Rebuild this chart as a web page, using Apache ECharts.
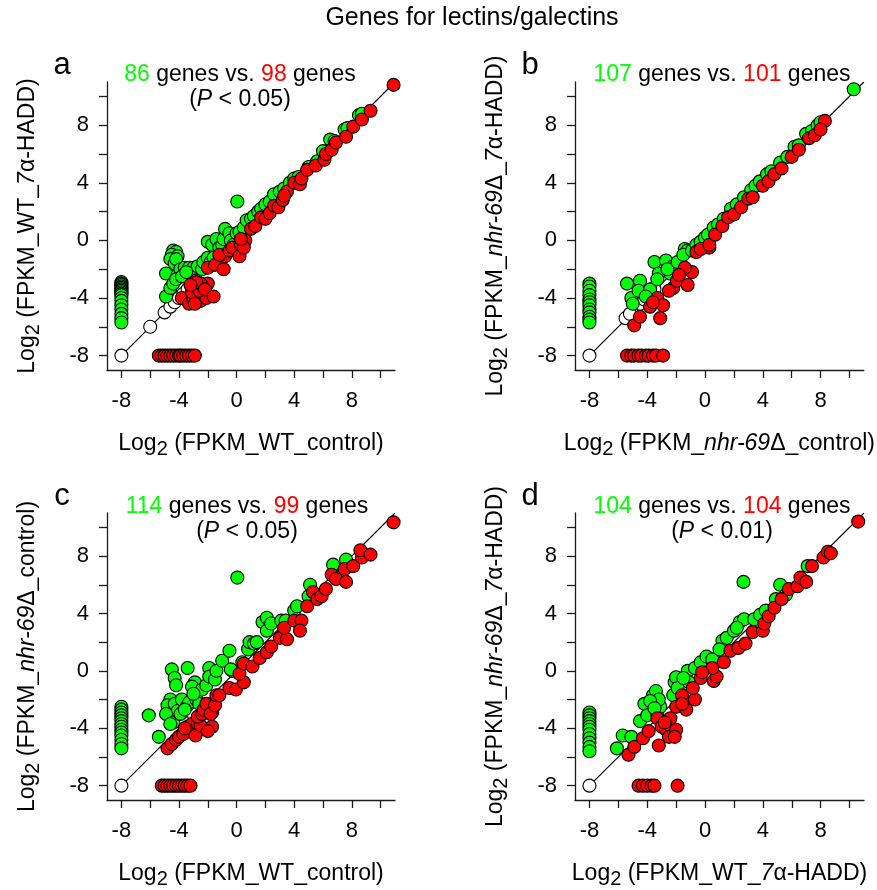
<!DOCTYPE html>
<html>
<head>
<meta charset="utf-8">
<script src="https://cdn.jsdelivr.net/npm/echarts@6/dist/echarts.min.js"></script>
<style>html,body{margin:0;padding:0;background:#fff}#chart{width:877px;height:890px}</style>
</head>
<body>
<div id="chart"></div>
<script>
// ---------- data (log2 FPKM values) ----------
const axisRange = [-9, 11];
const tickValues = [-8, -6, -4, -2, 0, 2, 4, 6, 8, 10];
const labelValues = [-8, -4, 0, 4, 8];
const diagLine = [-8, 11];

const aUp = [[-8,-2.9],[-8,-3.0],[-8,-3.1],[-8,-3.2],[-8,-3.3],[-8,-3.4],[-8,-3.5],[-8,-3.6],[-8,-3.7],[-8,-3.8],[-8,-4.0],[-8,-4.2],[-8,-4.5],[-8,-4.8],[-8,-5.1],[-8,-5.4],[-8,-5.7],
[-4.4,-0.7],[-4.2,-0.8],[-4.5,-1.0],[-4.1,-1.1],[-4.6,-1.3],[-4.3,-1.6],[-4.2,-1.3],[-4.9,-2.3],[-4.1,-2.4],[-3.9,-2.0],[-3.6,-1.9],[-3.3,-1.9],[-3.0,-1.9],[-2.7,-1.8],[-2.4,-2.0],[-4.9,-3.9],[-4.6,-3.3],[-4.4,-3.0],[-4.2,-2.7],[-3.8,-2.5],[-3.5,-2.2],
[-2.3,-1.5],[-2.0,-1.2],[-1.8,-1.5],[-1.6,-1.2],[-2.0,-0.1],[-1.7,-0.3],[-1.4,0.1],[-1.2,-0.5],[-1.0,-0.3],[-0.9,0.1],[-0.8,0.8],[-0.5,0.5],[-0.4,0.0],[-0.2,-0.3],[0.0,0.5],[0.2,0.6],[0.5,0.9],[0.7,1.4],[1.0,1.5],[1.2,1.7],[1.5,2.0],[1.7,2.2],[2.0,2.5],[2.3,2.7],[2.6,3.2],[3.0,3.4],[3.3,3.6],[3.7,4.0],[4.0,4.3],[4.3,4.4],[5.0,5.1],[5.6,5.5],[6.0,6.2],[6.5,7.0],[6.8,6.9],[7.5,7.7],[7.7,7.8],[8.5,8.7],[8.7,8.8],[0.05,2.7]];
const aDown = [[-5.4,-8],[-5.2,-8],[-5.0,-8],[-4.8,-8],[-4.6,-8],[-4.4,-8],[-4.2,-8],[-4.0,-8],[-3.9,-8],[-3.7,-8],[-3.5,-8],[-3.3,-8],[-3.1,-8],[-2.9,-8],
[-3.8,-4.0],[-3.3,-4.4],[-3.0,-4.1],[-2.5,-4.2],[-2.1,-4.0],[-3.1,-3.6],[-2.6,-3.5],[-2.0,-3.0],[-2.5,-3.0],[-2.8,-2.9],[-3.2,-3.1],[-2.2,-3.4],[-1.6,-3.9],[-2.9,-4.4],
[-2.0,-1.9],[-1.5,-1.7],[-0.9,-2.0],[-0.8,-1.1],[-1.2,-1.0],[-0.5,-0.7],[-0.3,-0.5],[0.2,-1.1],[0.3,-0.3],[0.6,0.0],[0.5,-0.5],[0.3,0.1],[1.0,0.8],[1.3,1.0],[1.7,1.6],[2.0,1.5],[2.3,1.9],[2.6,2.4],[2.9,2.3],[3.2,2.8],[3.5,3.4],[3.3,3.1],[4.0,4.0],[4.4,3.9],[4.5,4.3],[4.9,4.9],[5.5,5.2],[6.1,5.6],[6.2,6.0],[6.6,6.3],[6.9,6.8],[7.6,7.2],[8.1,7.9],[8.7,8.4],[9.3,9.0],[10.9,10.8]];
const aSame = [[-8,-8],[-6,-6],[-5,-5],[-4.6,-4.6],[-4.3,-4.3],[-4,-4],[-3.7,-3.7],[-3.4,-3.4],[-3.1,-3.1],[-2.8,-2.8]];

const bUp = [[-8,-3.0],[-8,-3.2],[-8,-3.5],[-8,-3.8],[-8,-4.1],[-8,-4.3],[-8,-4.5],[-8,-4.8],[-8,-5.0],[-8,-5.3],[-8,-5.5],[-8,-5.7],
[-5.4,-3.0],[-5.1,-4.0],[-5.0,-4.4],[-4.5,-2.8],[-4.6,-3.5],[-3.8,-3.4],[-4.1,-3.9],[-3.5,-1.5],[-3.2,-2.3],[-3.3,-2.7],[-2.7,-1.4],[-2.4,-2.3],[-2.2,-1.8],[-2.6,-2.0],[-1.9,-1.5],[-1.4,-0.6],[-1.2,-0.7],[-1.5,-1.0],[-0.9,-0.7],[-0.6,-0.3],[-0.3,-0.1],[0.0,0.2],[0.2,0.4],[0.6,0.9],[0.9,1.1],[1.3,1.5],[1.8,2.2],[2.2,2.5],[2.7,3.0],[3.2,3.5],[3.5,3.8],[3.8,4.1],[4.3,4.6],[4.6,4.8],[5.2,5.4],[5.7,5.8],[6.2,6.5],[6.5,6.6],[7.0,7.4],[7.4,7.6],[7.8,8.0],[8.0,8.2],[10.3,10.5]];
const bDown = [[-5.4,-8],[-5.1,-8],[-4.9,-8],[-4.6,-8],[-4.4,-8],[-4.1,-8],[-3.9,-8],[-3.6,-8],[-3.4,-8],[-2.9,-8],
[-4.9,-5.9],[-4.5,-5.3],[-3.1,-5.4],[-3.8,-4.6],[-3.3,-4.0],[-2.9,-4.5],[-3.6,-4.3],[-2.2,-3.3],[-1.95,-2.8],[-1.2,-3.1],[-0.9,-2.2],[-1.4,-1.9],[-2.5,-3.5],[-1.8,-2.4],[-0.6,-0.8],[0.3,-0.5],[-0.3,-0.6],[0.3,-0.3],[0.7,0.4],[1.2,1.0],[1.6,1.6],[2.0,1.8],[2.5,2.3],[3.0,2.9],[3.3,3.0],[4.0,3.8],[4.4,4.1],[4.8,4.6],[5.3,5.0],[6.0,5.8],[6.5,6.3],[7.2,7.1],[7.6,7.3],[8.3,8.3],[8.0,7.7]];
const bSame = [[-8,-8],[-5.5,-5.4],[-5.2,-5.1],[-4.5,-4.4],[-4.2,-4.1],[-3.8,-3.8],[-3.5,-3.4]];

const cUp = [[-8,-2.5],[-8,-2.7],[-8,-2.9],[-8,-3.1],[-8,-3.3],[-8,-3.5],[-8,-3.7],[-8,-3.9],[-8,-4.1],[-8,-4.3],[-8,-4.5],[-8,-4.8],[-8,-5.1],[-8,-5.4],
[-6.1,-3.1],[-5.4,-4.6],[-4.5,0.1],[-3.4,0.2],[-4.3,-0.5],[-4.2,-1.0],[-2.9,-0.8],[-3.1,-1.1],[-4.6,-2.0],[-4.8,-2.4],[-4.3,-2.3],[-4.1,-2.8],[-4.9,-3.0],[-4.4,-3.6],[-4.6,-3.7],[-3.8,-2.0],[-3.4,-2.4],[-3.9,-3.0],[-3.3,-2.2],[-2.8,-2.0],[-2.4,-1.3],[-2.1,-1.0],[-1.9,0.2],[-1.9,-0.4],[-1.5,-0.6],[-1.4,0.0],[-1.0,0.7],[-0.5,1.4],[-0.3,0.0],[-0.4,0.1],[0.4,0.6],[0.8,1.5],[0.9,2.0],[1.2,1.9],[1.4,2.0],[1.8,3.4],[2.1,3.7],[2.1,2.8],[2.4,3.3],[3.1,3.5],[3.4,3.5],[4.0,4.2],[4.2,4.5],[5.0,5.2],[5.1,6.0],[6.7,7.4],[7.6,7.75],[0.05,6.5],[-3.6,-2.7],[-2.6,-2.3],[-3.0,-1.6]];
const cDown = [[-5.2,-8],[-5.0,-8],[-4.8,-8],[-4.6,-8],[-4.4,-8],[-4.2,-8],[-4.0,-8],[-3.8,-8],[-3.6,-8],[-3.4,-8],[-3.2,-8],
[-4.8,-5.4],[-4.5,-5.1],[-4.2,-4.8],[-4.0,-4.6],[-3.7,-4.4],[-3.4,-3.9],[-3.1,-3.7],[-2.85,-4.5],[-2.7,-3.7],[-2.5,-3.8],[-2.7,-3.2],[-2.4,-3.0],[-2.3,-2.7],[-2.1,-2.3],[-1.7,-2.9],[-1.7,-3.9],[-2.0,-4.2],[-1.8,-3.0],[-1.5,-2.4],[-1.4,-1.7],[-1.2,-1.7],[-0.5,-1.2],[-0.05,-1.3],[0.5,-0.8],[0.2,-0.2],[0.5,0.5],[1.1,0.3],[1.6,0.9],[2.1,1.3],[2.4,1.7],[3.0,2.3],[3.5,2.2],[3.3,3.0],[4.0,3.5],[4.5,3.5],[4.4,2.8],[4.9,4.5],[5.3,5.5],[5.6,5.0],[5.9,5.2],[6.2,5.7],[6.6,6.7],[6.9,6.4],[7.6,6.2],[7.5,7.1],[8.1,7.3],[8.7,7.9],[8.6,8.4],[9.3,8.1],[10.9,10.35],[-3.6,-4.0]];
const cSame = [[-8,-8],[-3,-3]];

const dUp = [[-8,-2.9],[-8,-3.1],[-8,-3.3],[-8,-3.5],[-8,-3.7],[-8,-3.9],[-8,-4.1],[-8,-4.4],[-8,-4.7],[-8,-5.0],[-8,-5.3],[-8,-5.6],
[-6.1,-5.4],[-5.7,-4.5],[-5.1,-4.6],[-4.5,-3.5],[-4.2,-2.3],[-4.0,-3.1],[-3.6,-1.7],[-3.4,-1.4],[-3.3,-3.0],[-3.1,-2.5],[-3.2,-2.0],[-3.8,-2.1],[-3.5,-2.6],[-2.2,-1.7],[-2.1,-0.8],[-2.0,-0.45],[-1.9,-1.2],[-1.2,0.0],[-1.1,-0.8],[-1.5,-0.5],[-0.7,0.2],[-0.3,0.6],[0.1,1.0],[0.5,0.8],[1.2,2.1],[1.5,2.3],[1.0,1.5],[2.0,2.8],[2.4,3.4],[2.7,3.6],[2.2,3.0],[3.4,3.6],[3.8,3.9],[4.2,4.2],[4.9,5.0],[5.2,6.0],[5.6,5.3],[7.1,7.3],[2.66,6.2]];
const dDown = [[-4.6,-8],[-4.3,-8],[-4.0,-8],[-3.7,-8],[-3.5,-8],[-1.9,-8],
[-5.3,-5.85],[-4.9,-5.3],[-4.3,-4.7],[-3.9,-4.2],[-3.3,-3.3],[-3.2,-5.2],[-3.0,-3.9],[-2.7,-4.1],[-2.5,-4.6],[-2.0,-4.1],[-2.1,-4.6],[-2.4,-3.3],[-2.0,-2.5],[-1.3,-2.7],[-0.7,-2.0],[-1.6,-1.7],[-0.85,-1.2],[-0.3,-0.5],[0.6,-0.7],[0.8,-0.4],[0.5,0.2],[1.3,0.6],[1.75,1.4],[2.3,1.6],[2.8,1.9],[3.3,2.7],[4.0,2.8],[4.1,3.3],[4.4,3.8],[4.8,4.4],[5.3,5.0],[5.8,5.7],[6.4,5.9],[6.6,6.5],[7.0,6.2],[7.4,7.3],[8.2,7.9],[8.5,8.3],[8.7,8.2],[10.6,10.4],[-2.8,-3.6],[-1.6,-2.3],[-0.2,-0.1]];
const dSame = [[-8,-8]];

const mainTitle = 'Genes for lectins/galectins';
const panelLetters = ['a', 'b', 'c', 'd'];
const upCounts = ['86', '107', '114', '104'];
const downCounts = ['98', '101', '99', '104'];
const pValues = ['0.05', null, '0.05', '0.01'];
const xNames = [
  '{n|Log}{s|2}{n| (FPKM_WT_control)}',
  '{n|Log}{s|2}{n| (FPKM_}{i|nhr-69}{n|Δ_control)}',
  '{n|Log}{s|2}{n| (FPKM_WT_control)}',
  '{n|Log}{s|2}{n| (FPKM_WT_}{i|7}{n|α-HADD)}'
];
const yNames = [
  '{n|Log}{s|2}{n| (FPKM_WT_}{i|7}{n|α-HADD)}',
  '{n|Log}{s|2}{n| (FPKM_}{i|nhr-69}{n|Δ_}{i|7}{n|α-HADD)}',
  '{n|Log}{s|2}{n| (FPKM_}{i|nhr-69}{n|Δ_control)}',
  '{n|Log}{s|2}{n| (FPKM_}{i|nhr-69}{n|Δ_}{i|7}{n|α-HADD)}'
];
const panelData = [[aUp, aDown, aSame], [bUp, bDown, bSame], [cUp, cDown, cSame], [dUp, dDown, dSame]];

// ---------- layout ----------
const FONT = '"Liberation Sans", Arial, sans-serif';
const GREEN = '#00ff00', RED = '#ff0000';
const grids = [
  {left: 107, top: 82, width: 288, height: 288},
  {left: 575, top: 82, width: 289, height: 288},
  {left: 107, top: 513, width: 288, height: 288},
  {left: 575, top: 513, width: 289, height: 288}
];
const subPos = [[240, 75], [722, 75], [247, 507], [722, 507]];
const letterPos = [[62, 65], [530, 65], [62, 496], [530, 496]];

const nameRich = {
  n: {fontSize: 23, fontFamily: FONT, color: '#000'},
  i: {fontSize: 23, fontFamily: FONT, fontStyle: 'italic', color: '#000'},
  s: {fontSize: 20, fontFamily: FONT, color: '#000', padding: [10, 0, 0, 0]}
};

function axisCommon(i, isX) {
  return {
    type: 'value', gridIndex: i, min: axisRange[0], max: axisRange[1],
    name: isX ? xNames[i] : yNames[i],
    nameLocation: 'middle',
    nameGap: isX ? 59 : 64,
    nameRotate: isX ? 0 : 90,
    nameTextStyle: {rich: nameRich, fontFamily: FONT, fontSize: 23, color: '#000'},
    axisLine: {show: true, onZero: false, lineStyle: {color: '#1a1a1a', width: 1.3}},
    axisTick: {show: true, inside: false, length: 8, customValues: tickValues, lineStyle: {color: '#1a1a1a', width: 1.3}},
    minorTick: {show: false},
    axisLabel: {show: true, customValues: labelValues, fontSize: 22, fontFamily: FONT, color: '#000', margin: isX ? 20 : 18},
    splitLine: {show: false}
  };
}

const xAxes = [], yAxes = [], series = [], graphics = [];
grids.forEach((g, i) => {
  xAxes.push(axisCommon(i, true));
  yAxes.push(axisCommon(i, false));
  series.push({
    type: 'line', xAxisIndex: i, yAxisIndex: i,
    data: [[diagLine[0], diagLine[0]], [diagLine[1], diagLine[1]]],
    symbol: 'none', lineStyle: {color: '#000', width: 1.1}, silent: true, z: 1
  });
  const [up, down, same] = panelData[i];
  const mk = (data, color, z) => ({
    type: 'scatter', xAxisIndex: i, yAxisIndex: i, data: data,
    symbol: 'circle', symbolSize: 13, z: z,
    itemStyle: {color: color, borderColor: '#000', borderWidth: 1.1, opacity: 1}
  });
  series.push(mk(same, '#ffffff', 2));
  series.push(mk(up, GREEN, 3));
  series.push(mk(down, RED, 4));

  graphics.push({
    type: 'text', x: letterPos[i][0], y: letterPos[i][1],
    style: {text: panelLetters[i], fontSize: 31, fontFamily: FONT, fill: '#000', align: 'center', verticalAlign: 'middle'}
  });
  const rich = {
    g: {fontSize: 23, fontFamily: FONT, fill: GREEN, color: GREEN},
    r: {fontSize: 23, fontFamily: FONT, fill: RED, color: RED},
    k: {fontSize: 23, fontFamily: FONT, fill: '#000', color: '#000'},
    i: {fontSize: 23, fontFamily: FONT, fontStyle: 'italic', fill: '#000', color: '#000'}
  };
  graphics.push({
    type: 'text', x: subPos[i][0], y: subPos[i][1],
    style: {text: '{g|' + upCounts[i] + '}{k| genes vs. }{r|' + downCounts[i] + '}{k| genes}',
      rich: rich, fontSize: 23, fontFamily: FONT, align: 'center', verticalAlign: 'middle'}
  });
  if (pValues[i]) {
    graphics.push({
      type: 'text', x: subPos[i][0], y: subPos[i][1] + 25,
      style: {text: '{k|(}{i|P}{k| < ' + pValues[i] + ')}',
        rich: rich, fontSize: 23, fontFamily: FONT, align: 'center', verticalAlign: 'middle'}
    });
  }
});
graphics.push({
  type: 'text', x: 472, y: 18,
  style: {text: mainTitle, fontSize: 25, fontFamily: FONT, fill: '#000', align: 'center', verticalAlign: 'middle'}
});

const chart = echarts.init(document.getElementById('chart'), null, {renderer: 'canvas'});
chart.setOption({
  animation: false,
  backgroundColor: '#fff',
  grid: grids,
  xAxis: xAxes,
  yAxis: yAxes,
  series: series,
  graphic: graphics
});
</script>
</body>
</html>
